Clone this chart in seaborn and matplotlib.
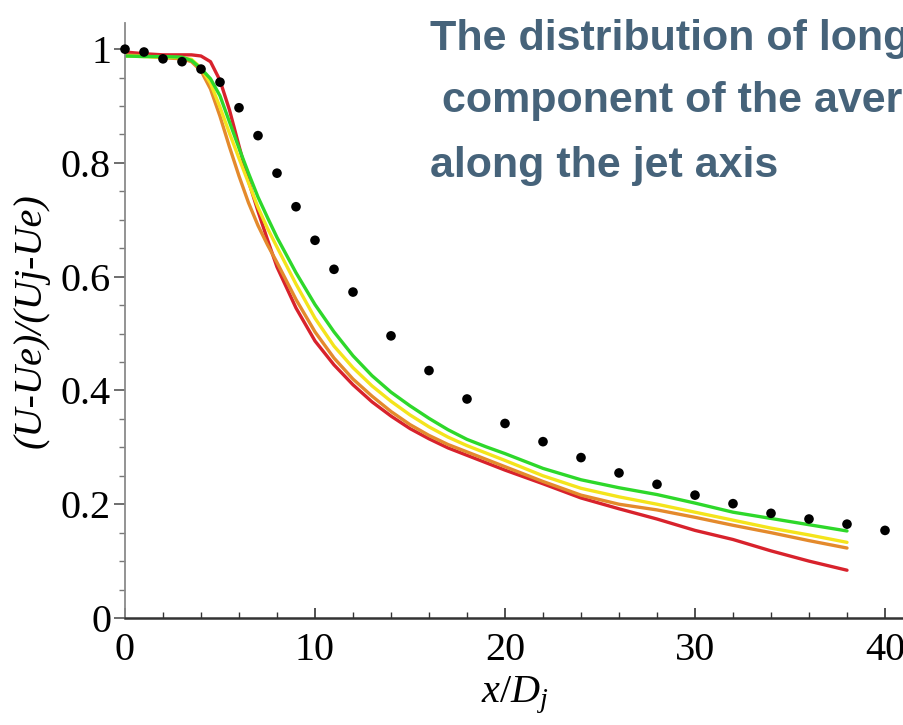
import matplotlib
matplotlib.use("Agg")
import matplotlib.pyplot as plt
from matplotlib import font_manager
from matplotlib.ticker import MultipleLocator
import numpy as np
import pandas as pd
import seaborn as sns

# ---------------- data ----------------
x_exp = [0, 1, 2, 3, 4, 5, 6, 7, 8, 9, 10, 11, 12, 14, 16, 18, 20, 22, 24,
         26, 28, 30, 32, 34, 36, 38, 40]
u_exp = [1.0, 0.995, 0.983, 0.978, 0.965, 0.942, 0.897, 0.848, 0.782, 0.723,
         0.664, 0.613, 0.573, 0.496, 0.435, 0.385, 0.342, 0.310, 0.282, 0.255,
         0.235, 0.216, 0.201, 0.184, 0.174, 0.165, 0.154]

x_sim = [0, 1, 2, 3, 3.5, 4, 4.5, 5, 5.5, 6, 6.5, 7, 7.5, 8, 9, 10, 11, 12,
         13, 14, 15, 16, 17, 18, 19, 20, 22, 24, 26, 28, 30, 32, 34, 36, 38]
u_red = [0.995, 0.992, 0.99, 0.99, 0.99, 0.988, 0.978, 0.945, 0.893, 0.83,
         0.768, 0.715, 0.665, 0.617, 0.545, 0.487, 0.445, 0.41, 0.38, 0.355,
         0.333, 0.315, 0.299, 0.286, 0.273, 0.26, 0.236, 0.211, 0.192, 0.174,
         0.154, 0.138, 0.118, 0.1, 0.084]
u_orange = [0.99, 0.988, 0.985, 0.983, 0.978, 0.962, 0.93, 0.882, 0.828, 0.777,
            0.73, 0.69, 0.656, 0.625, 0.56, 0.503, 0.457, 0.42, 0.39, 0.363,
            0.34, 0.321, 0.305, 0.292, 0.279, 0.266, 0.24, 0.216, 0.2, 0.19,
            0.177, 0.163, 0.15, 0.136, 0.123]
u_yellow = [0.988, 0.987, 0.986, 0.985, 0.982, 0.967, 0.94, 0.898, 0.852, 0.808,
            0.765, 0.722, 0.685, 0.652, 0.587, 0.527, 0.478, 0.44, 0.408, 0.381,
            0.357, 0.336, 0.318, 0.303, 0.29, 0.277, 0.25, 0.228, 0.213, 0.2,
            0.186, 0.172, 0.158, 0.146, 0.133]
u_green = [0.988, 0.987, 0.987, 0.986, 0.98, 0.966, 0.948, 0.918, 0.872, 0.826,
           0.782, 0.74, 0.704, 0.669, 0.607, 0.551, 0.503, 0.461, 0.426, 0.397,
           0.373, 0.351, 0.331, 0.314, 0.301, 0.289, 0.263, 0.243, 0.229, 0.217,
           0.202, 0.186, 0.175, 0.164, 0.153]

series_names = ["red", "orange", "yellow", "green"]
series_values = [u_red, u_orange, u_yellow, u_green]
series_colors = ["#d8222c", "#e48a2c", "#f4e41c", "#2ed82a"]

title_lines = ["The distribution of longitudinal",
               " component of the averaged velocity",
               "along the jet axis"]

x_ticks = [0, 10, 20, 30, 40]
y_ticks = [0, 0.2, 0.4, 0.6, 0.8, 1.0]
y_ticklabels = ["0", "0.2", "0.4", "0.6", "0.8", "1"]

# ---------------- style ----------------
sns.set_theme(style="white")
plt.rcParams["font.family"] = ["Liberation Serif", "DejaVu Serif"]
plt.rcParams["mathtext.fontset"] = "custom"
plt.rcParams["mathtext.it"] = "Liberation Serif:italic"
plt.rcParams["mathtext.rm"] = "Liberation Serif"

available = {f.name for f in font_manager.fontManager.ttflist}
if "Liberation Sans Narrow" in available:
    title_family, title_size = "Liberation Sans Narrow", 38
else:
    title_family, title_size = "Liberation Sans", 31

df = pd.concat(
    [pd.DataFrame({"x": x_sim, "u": v, "case": n})
     for n, v in zip(series_names, series_values)],
    ignore_index=True)
df_exp = pd.DataFrame({"x": x_exp, "u": u_exp})

fig = plt.figure(figsize=(9.04, 7.25), dpi=100)
ax = fig.add_axes([125 / 904, 107 / 725, 1 - 125 / 904, (618 - 23) / 725])

sns.lineplot(data=df, x="x", y="u", hue="case", hue_order=series_names,
             palette=dict(zip(series_names, series_colors)), linewidth=2.4,
             sort=False, legend=False, ax=ax)
sns.scatterplot(data=df_exp, x="x", y="u", color="black", s=48,
                edgecolor="none", ax=ax, clip_on=False, zorder=5)

ax.set_xlim(0, 41)
ax.set_ylim(0, 1.046)
ax.set_xticks(x_ticks)
ax.set_xticklabels([str(t) for t in x_ticks])
ax.set_yticks(y_ticks)
ax.set_yticklabels(y_ticklabels)
ax.xaxis.set_minor_locator(MultipleLocator(2))
ax.yaxis.set_minor_locator(MultipleLocator(0.05))

for s in ["top", "right"]:
    ax.spines[s].set_visible(False)
ax.spines["left"].set_color("#8a8a8a")
ax.spines["left"].set_linewidth(1.3)
ax.spines["bottom"].set_color("#333333")
ax.spines["bottom"].set_linewidth(1.8)

ax.tick_params(axis="x", which="major", direction="in", length=7, width=1.2,
               color="#333333", labelsize=29, pad=10, bottom=True)
ax.tick_params(axis="x", which="minor", direction="in", length=4, width=1.0,
               color="#333333", bottom=True)
ax.tick_params(axis="y", which="major", direction="out", length=8, width=1.2,
               color="#555555", labelsize=29, pad=2, left=True)
ax.tick_params(axis="y", which="minor", direction="out", length=4, width=1.0,
               color="#777777", left=True)
for lab in ax.get_xticklabels() + ax.get_yticklabels():
    lab.set_color("black")

ax.set_xlabel(r"$x/D_j$", fontsize=29, color="black", labelpad=4)
ax.set_ylabel("(U-Ue)/(Uj-Ue)", fontsize=29, style="italic", color="black",
              labelpad=8)

baselines = [50, 112, 177]
for line, b in zip(title_lines, baselines):
    fig.text(430 / 904, 1 - b / 725, line, fontsize=title_size,
             fontweight="bold", color="#46637a", family=title_family,
             ha="left", va="baseline")

fig.savefig("out.png", dpi=100)
